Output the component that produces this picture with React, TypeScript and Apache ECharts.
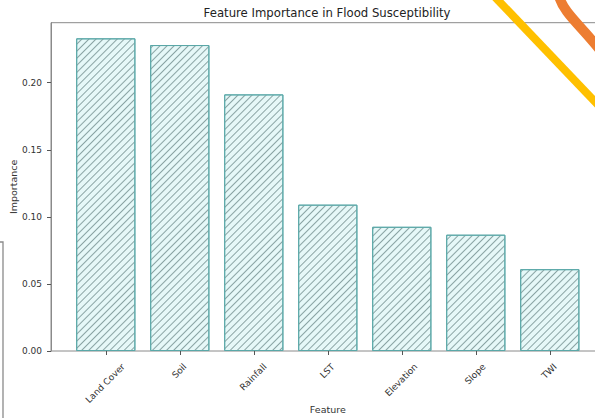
import React, { useEffect, useRef } from "react";
import * as echarts from "echarts";

const categories = ["Land Cover", "Soil", "Rainfall", "LST", "Elevation", "Slope", "TWI"];
const importance = [0.2331, 0.2281, 0.1913, 0.1091, 0.0926, 0.0867, 0.061];
const yTicks = [0, 0.05, 0.1, 0.15, 0.2];
const titleText = "Feature Importance in Flood Susceptibility";
const xName = "Feature";
const yName = "Importance";

const FONT = '"DejaVu Sans", "Liberation Sans", sans-serif';
const TICK_FS = 9;
const NAME_FS = 9.5;

export default function App() {
  const ref = useRef<HTMLDivElement>(null);

  useEffect(() => {
    document.body.style.margin = "0";
    if (!ref.current) return;
    const chart = echarts.init(ref.current, null, { renderer: "svg" });

    const ctx = document.createElement("canvas").getContext("2d");
    if (ctx) ctx.font = `${TICK_FS}px ${FONT}`;
    const h = TICK_FS * 1.17;
    const catData = categories.map((name) => {
      const L = ctx ? ctx.measureText(name).width : name.length * 5;
      const pt = Math.max(0, 0.25 * L - 0.25 * h);
      const pr = 0.5 * (L + h);
      return {
        value: name,
        textStyle: {
          align: "center",
          verticalAlign: "top",
          padding: [pt, pr, 0, 0],
          fontSize: TICK_FS,
          color: "#333",
          fontFamily: FONT,
        },
      };
    });

    const yMax = Math.max(...importance) * 1.05;
    const top = 22.7;
    const height = 328.3;

    chart.setOption({
      animation: false,
      backgroundColor: "#ffffff",
      textStyle: { fontFamily: FONT },
      grid: [
        {
          left: 51,
          top,
          width: 553.5,
          height,
          show: true,
          borderColor: "#8a8a8a",
          borderWidth: 1,
          backgroundColor: "transparent",
          outerBoundsMode: "none",
          containLabel: false,
        },
        { left: 68.8, top, width: 518, height, outerBoundsMode: "none", containLabel: false },
      ],
      xAxis: [
        {
          gridIndex: 0,
          type: "value",
          min: 0,
          max: 1,
          show: false,
        },
        {
          gridIndex: 1,
          type: "category",
          data: catData,
          boundaryGap: true,
          axisLine: { show: false },
          axisTick: { show: true, alignWithLabel: true, length: 4, lineStyle: { color: "#555" } },
          axisLabel: {
            interval: 0,
            rotate: 45,
            align: "center",
            verticalAlign: "top",
            margin: 11,
            fontSize: TICK_FS,
            color: "#333",
            fontFamily: FONT,
          },
          name: xName,
          nameLocation: "middle",
          nameGap: 53,
          nameMoveOverlap: false,
          nameTextStyle: { fontSize: NAME_FS, color: "#333", fontFamily: FONT },
        },
      ],
      yAxis: [
        {
          gridIndex: 0,
          type: "value",
          min: 0,
          max: yMax,
          axisLine: { show: true, lineStyle: { color: "#8a8a8a" } },
          axisTick: { show: true, length: 4, customValues: yTicks, lineStyle: { color: "#555" } },
          axisLabel: {
            customValues: yTicks,
            formatter: (v: number) => v.toFixed(2),
            fontSize: TICK_FS,
            color: "#333",
            margin: 9,
            fontFamily: FONT,
          },
          splitLine: { show: false },
          name: yName,
          nameLocation: "middle",
          nameGap: 33,
          nameMoveOverlap: false,
          nameTextStyle: { fontSize: NAME_FS, color: "#333", fontFamily: FONT },
        },
        {
          gridIndex: 1,
          type: "value",
          min: 0,
          max: yMax,
          show: false,
        },
      ],
      series: [
        {
          type: "bar",
          xAxisIndex: 1,
          yAxisIndex: 1,
          data: importance,
          barWidth: "80%",
          itemStyle: {
            color: "#e6f8f8",
            borderColor: "#5aa8a8",
            borderWidth: 1,
            decal: {
              symbol: "rect",
              symbolSize: 1,
              dashArrayX: [1, 0],
              dashArrayY: [1, 4],
              rotation: -Math.PI / 4,
              color: "#8aa4a4",
            },
          },
        },
      ],
      graphic: [
        {
          type: "text",
          x: 327,
          y: 13,
          style: {
            text: titleText,
            fontSize: 11.7,
            fontFamily: FONT,
            fill: "#222",
            align: "center",
            verticalAlign: "middle",
          },
        },
        {
          type: "polyline",
          shape: { points: [[494, -4], [599, 106]] },
          style: { stroke: "#ffc000", lineWidth: 8, fill: null },
        },
        {
          type: "bezierCurve",
          shape: { x1: 559, y1: -4, cpx1: 563, cpy1: 12, x2: 600, y2: 50, cpx2: 580, cpy2: 25 },
          style: { stroke: "#ed7d31", lineWidth: 10, fill: null },
        },
        {
          type: "polyline",
          shape: { points: [[0, 242], [3, 242], [3, 420]] },
          style: { stroke: "#8a8a8a", lineWidth: 1.3, fill: null },
        },
      ],
    });

    return () => chart.dispose();
  }, []);

  return <div ref={ref} style={{ width: 595, height: 418 }} />;
}
